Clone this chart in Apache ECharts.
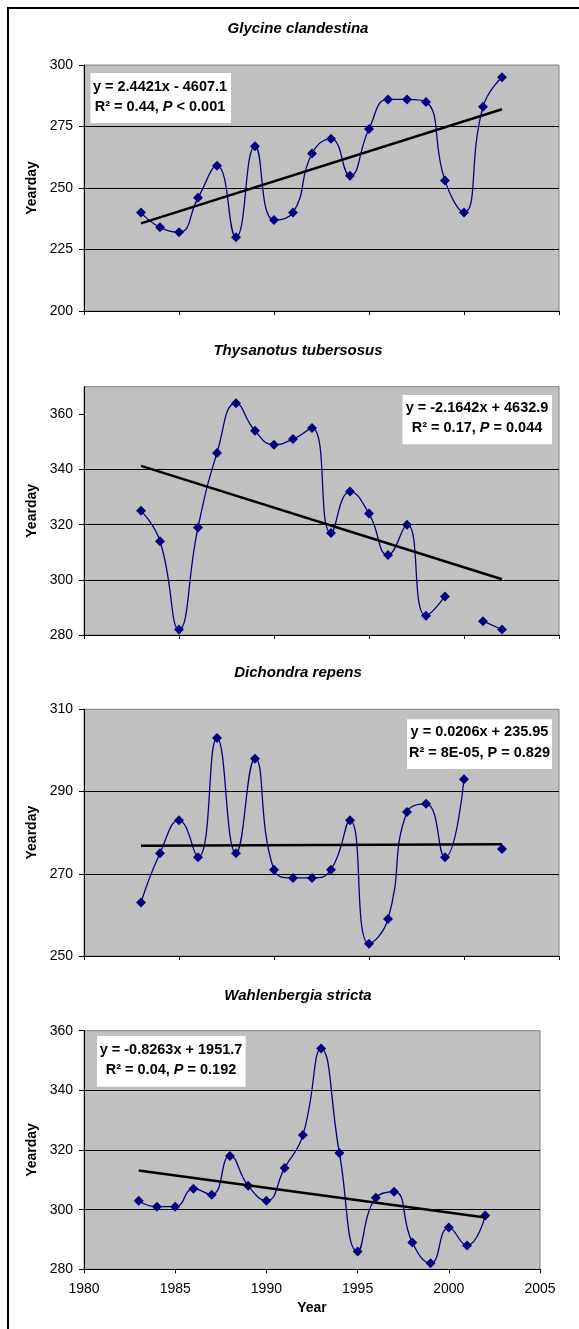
<!DOCTYPE html>
<html>
<head>
<meta charset="utf-8">
<script src="https://cdn.jsdelivr.net/npm/echarts@6/dist/echarts.min.js"></script>
<style>
html,body{margin:0;padding:0;background:#fff;}
#c{width:579px;height:1329px;}
</style>
</head>
<body>
<div id="c"></div>
<script>
// ---- data ----
const years = [1983,1984,1985,1986,1987,1988,1989,1990,1991,1992,1993,1994,1995,1996,1997,1998,1999,2000,2001,2002];
const glycine      = [240,234,232,246,259,230,267,237,240,264,270,255,274,286,286,285,253,240,283,295];
const thysanotus   = [325,314,282,319,346,364,354,349,351,355,317,332,324,309,320,287,294,null,285,282];
const dichondra    = [263,275,283,274,303,275,298,271,269,269,271,283,253,259,285,287,274,293,null,276];
const wahlenbergia = [303,301,301,307,305,318,308,303,314,325,354,319,286,304,306,289,282,294,288,298];

const trendYears        = [1983, 2002];
const glycineTrend      = [235.6, 282.0];
const thysanotusTrend   = [341.3, 300.2];
const dichondraTrend    = [276.8, 277.2];
const wahlenbergiaTrend = [313.1, 297.4];

const titles = ['Glycine clandestina', 'Thysanotus tubersosus', 'Dichondra repens', 'Wahlenbergia stricta'];
const eqLine1 = ['y = 2.4421x - 4607.1', 'y = -2.1642x + 4632.9', 'y = 0.0206x + 235.95', 'y = -0.8263x + 1951.7'];
const eqLine2 = [
  ['R² = 0.44, ', 'P', ' < 0.001', true],
  ['R² = 0.17, ', 'P', ' = 0.044', true],
  ['R² = 8E-05, ', 'P', ' = 0.829', false],
  ['R² = 0.04, ', 'P', ' = 0.192', true]
];
const yMin = [200, 280, 250, 280];
const yMax = [300, 370, 310, 360];
const yInterval = [25, 20, 20, 20];
const yTickValues = [
  [200,225,250,275,300],
  [280,300,320,340,360],
  [250,270,290,310],
  [280,300,320,340,360]
];
const xMin = 1980, xMax = 2005, xInterval = 5;

// ---- layout ----
const FONT = '"Liberation Sans", Arial, Helvetica, sans-serif';
const grids = [
  {left: 84, top: 65,    width: 475, height: 246},
  {left: 84, top: 386.7, width: 475, height: 248.3},
  {left: 84, top: 709.3, width: 475, height: 246.7},
  {left: 84, top: 1030.7, width: 456, height: 238.6}
];
const titleY = [29, 350.5, 673, 996];
const boxes = [
  {x: 90.5, y: 73,    w: 140.5, h: 50,   cx: 160,   l1: 87.3,  l2: 107.3},
  {x: 402.5, y: 395,  w: 149.5, h: 49.3, cx: 477,   l1: 408.3, l2: 428.3},
  {x: 407,  y: 719.3, w: 145,   h: 49.7, cx: 479.5, l1: 731.7, l2: 753.3},
  {x: 97,   y: 1036,  w: 148.6, h: 50.7, cx: 171,   l1: 1050,  l2: 1070}
];

const seriesVals = [glycine, thysanotus, dichondra, wahlenbergia];
const trendVals = [glycineTrend, thysanotusTrend, dichondraTrend, wahlenbergiaTrend];

const xAxes = [], yAxes = [], series = [], graphics = [];

graphics.push({
  type: 'rect', silent: true, z: 100,
  shape: {x: 8, y: 8, width: 700, height: 1500},
  style: {fill: 'none', stroke: '#000', lineWidth: 2}
});

for (let i = 0; i < 4; i++) {
  const last = i === 3;
  xAxes.push({
    gridIndex: i, type: 'value', min: xMin, max: xMax, interval: xInterval,
    axisLine: {show: true, lineStyle: {color: '#000', width: 1}},
    axisTick: {show: true, length: 4, lineStyle: {color: '#000'}},
    axisLabel: {show: last, fontFamily: FONT, fontSize: 14, color: '#000', margin: 13,
      formatter: v => String(v)},
    splitLine: {show: false},
    name: last ? 'Year' : '', nameLocation: 'middle', nameGap: 32,
    nameTextStyle: {fontFamily: FONT, fontSize: 14, fontWeight: 'bold', color: '#000'}
  });
  yAxes.push({
    gridIndex: i, type: 'value', min: yMin[i], max: yMax[i], interval: yInterval[i],
    axisLine: {show: true, lineStyle: {color: '#000', width: 1}},
    axisTick: {show: true, length: 5, lineStyle: {color: '#000'}, customValues: yTickValues[i]},
    axisLabel: {fontFamily: FONT, fontSize: 14, color: '#000', margin: 11, customValues: yTickValues[i],
      formatter: v => String(v)},
    splitLine: {show: true, showMinLine: false, showMaxLine: false, lineStyle: {color: '#000', width: 1}},
    name: 'Yearday', nameLocation: 'middle', nameGap: 44, nameRotate: 90,
    nameTextStyle: {fontFamily: FONT, fontSize: 14, fontWeight: 'bold', color: '#000'}
  });
  series.push({
    type: 'line', xAxisIndex: i, yAxisIndex: i,
    data: years.map((y, k) => [y, seriesVals[i][k]]),
    smooth: 0.5, connectNulls: false, showAllSymbol: true,
    symbol: 'diamond', symbolSize: 10,
    lineStyle: {color: '#000080', width: 1.3},
    itemStyle: {color: '#000080'},
    z: 3
  });
  series.push({
    type: 'line', xAxisIndex: i, yAxisIndex: i,
    data: trendYears.map((y, k) => [y, trendVals[i][k]]),
    symbol: 'none', lineStyle: {color: '#000', width: 2.5},
    z: 4
  });

  graphics.push({
    type: 'text', silent: true, x: 298, y: titleY[i],
    style: {text: titles[i], font: 'italic bold 15px ' + FONT, fill: '#000', align: 'center', verticalAlign: 'middle'}
  });
  const b = boxes[i];
  graphics.push({
    type: 'rect', silent: true, z: 10,
    shape: {x: b.x, y: b.y, width: b.w, height: b.h},
    style: {fill: '#fff', stroke: 'none'}
  });
  graphics.push({
    type: 'text', silent: true, z: 11, x: b.cx, y: b.l1,
    style: {text: eqLine1[i], font: 'bold 14.5px ' + FONT, fill: '#000', align: 'center', verticalAlign: 'middle'}
  });
  const l2 = eqLine2[i];
  graphics.push({
    type: 'text', silent: true, z: 11, x: b.cx, y: b.l2,
    style: {
      text: '{n|' + l2[0] + '}{' + (l2[3] ? 'i' : 'n') + '|' + l2[1] + '}{n|' + l2[2] + '}',
      align: 'center', verticalAlign: 'middle', fill: '#000',
      rich: {
        n: {font: 'bold 14.5px ' + FONT, fill: '#000'},
        i: {font: 'italic bold 14.5px ' + FONT, fill: '#000'}
      }
    }
  });
}

const chart = echarts.init(document.getElementById('c'), null, {renderer: 'canvas'});
chart.setOption({
  animation: false,
  backgroundColor: '#fff',
  grid: grids.map(g => Object.assign({show: true, backgroundColor: '#C0C0C0', borderColor: '#808080', borderWidth: 1, containLabel: false}, g)),
  xAxis: xAxes,
  yAxis: yAxes,
  series: series,
  graphic: graphics
});
</script>
</body>
</html>
